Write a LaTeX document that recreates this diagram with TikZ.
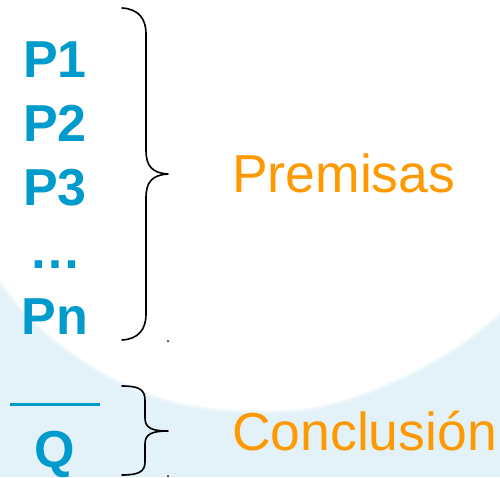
\documentclass[tikz,border=0pt]{standalone}
\usepackage{fontspec}
\setmainfont{Liberation Sans}

\definecolor{azul}{RGB}{0,155,205}
\definecolor{naranja}{RGB}{255,153,0}
\definecolor{fondo}{RGB}{227,242,248}

\tikzset{
  premisa/.style={anchor=base, inner sep=0pt, text=azul,
    font=\fontsize{52}{60}\selectfont\bfseries},
  rotulo/.style={anchor=base west, inner sep=0pt, text=naranja,
    font=\fontsize{53.5}{60}\selectfont},
  llave/.style={line width=1.6pt, line cap=round, line join=round},
  borde/.style={white, line width=#1, opacity=.3},
}

\begin{document}
\begin{tikzpicture}[x=1pt, y=-1pt]
  \useasboundingbox (0,0) rectangle (500,477);

  % Fondo celeste con la zona blanca arriba
  \fill[fondo] (0,0) rectangle (500,477);
  \fill[white] (0,0) -- (0,280) .. controls (40,340) and (110,382) .. (160,397)
    .. controls (200,410) and (250,412) .. (290,410)
    .. controls (340,408) and (440,370) .. (500,312) -- (500,0) -- cycle;
  \foreach \w in {3pt,6pt}
    \draw[borde=\w] (0,280) .. controls (40,340) and (110,382) .. (160,397)
      .. controls (200,410) and (250,412) .. (290,410)
      .. controls (340,408) and (440,370) .. (500,312);

  % Premisas
  \node[premisa] (p1) at (55,77) {P1};
  \node[premisa] (p2) at (55,141) {P2};
  \node[premisa] (p3) at (55,205) {P3};
  \node[premisa] (pp) at (55,268) {…};
  \node[premisa] (pn) at (55,334) {Pn};

  % Raya y conclusion
  \draw[azul, line width=3pt] (10,404) -- (100,404);
  \node[premisa] (q) at (55,467) {Q};

  % Llaves
  \draw[llave] (122,8) .. controls (138,9) and (146,18) .. (146,34) -- (146,150)
    .. controls (146,166) and (152,173) .. (168,174)
    .. controls (152,175) and (146,182) .. (146,198) -- (146,314)
    .. controls (146,330) and (138,339) .. (122,340);
  \draw[llave] (122,386) .. controls (138,386) and (145,389) .. (145,400) -- (145,418)
    .. controls (145,428) and (152,431) .. (168,431)
    .. controls (152,431) and (145,434) .. (145,444) -- (145,462)
    .. controls (145,472) and (138,475) .. (122,475);
  \fill (168,341) circle (1pt);
  \fill (168,476) circle (1pt);

  % Rotulos
  \node[rotulo] (premisas) at (232,192) {Premisas};
  \node[rotulo] (conclusion) at (232,450) {Conclusión};
\end{tikzpicture}
\end{document}
